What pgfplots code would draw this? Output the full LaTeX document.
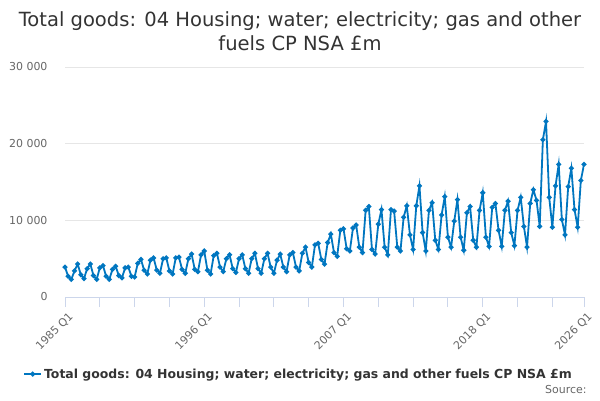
\documentclass[border=0pt]{standalone}
\usepackage{pgfplots}
\pgfplotsset{compat=1.18}
\usepackage{pgfplotstable}
\usepackage{fontspec}
\setmainfont{DejaVu Sans}
\definecolor{series}{RGB}{0,118,192}
\definecolor{tickgray}{RGB}{102,102,102}
\definecolor{gridc}{RGB}{230,230,230}
\definecolor{axisc}{RGB}{204,214,235}
\definecolor{titlec}{RGB}{51,51,51}
\pgfplotstableread{
i v
0 3900
1 2700
2 2300
3 3400
4 4300
5 2900
6 2400
7 3700
8 4300
9 2800
10 2300
11 3800
12 4100
13 2700
14 2300
15 3600
16 4000
17 2800
18 2500
19 3800
20 3900
21 2700
22 2600
23 4400
24 4900
25 3500
26 3000
27 4800
28 5100
29 3500
30 3100
31 5000
32 5100
33 3400
34 3000
35 5100
36 5200
37 3600
38 3100
39 5000
40 5600
41 3600
42 3300
43 5500
44 6000
45 3500
46 3000
47 5400
48 5700
49 3900
50 3300
51 5000
52 5500
53 3700
54 3200
55 5000
56 5500
57 3700
58 3100
59 5000
60 5700
61 3700
62 3100
63 5000
64 5700
65 3900
66 3100
67 4800
68 5600
69 3900
70 3300
71 5500
72 5800
73 3900
74 3400
75 5700
76 6500
77 4500
78 3900
79 6800
80 7000
81 4900
82 4300
83 7100
84 8200
85 5800
86 5300
87 8700
88 8900
89 6300
90 6000
91 9000
92 9400
93 6500
94 5800
95 11300
96 11800
97 6200
98 5600
99 9500
100 11400
101 6500
102 5500
103 11400
104 11200
105 6500
106 6000
107 10400
108 11900
109 8100
110 6200
111 11900
112 14500
113 8400
114 6000
115 11300
116 12300
117 7400
118 6200
119 10700
120 13100
121 7800
122 6500
123 9900
124 12700
125 7800
126 6100
127 11000
128 11800
129 7400
130 6500
131 11300
132 13600
133 7800
134 6600
135 11700
136 12200
137 8700
138 6600
139 11300
140 12500
141 8400
142 6700
143 11300
144 13000
145 9200
146 6500
147 12200
148 14000
149 12600
150 9200
151 20500
152 22900
153 13000
154 9100
155 14500
156 17300
157 10100
158 8100
159 14400
160 16800
161 11400
162 9100
163 15200
164 17300
}\datatable
\begin{document}
\begin{tikzpicture}[x=1bp,y=1bp]
\useasboundingbox (0,0) rectangle (600,400);
\begin{axis}[
  at={(65bp,103bp)}, anchor=south west,
  scale only axis, width=519bp, height=230bp,
  xmin=0, xmax=164, ymin=0, ymax=30000,
  scaled y ticks=false,
  axis x line*=bottom, axis y line*=left,
  y axis line style={draw=none},
  x axis line style={draw=axisc, line width=1bp},
  ytick={0,10000,20000,30000},
  yticklabels={0,10 000,20 000,30 000},
  ymajorgrids, grid style={draw=gridc, line width=0.8bp},
  ytick style={draw=none},
  yticklabel style={font=\fontsize{11}{13}\selectfont, text=tickgray, xshift=-4bp},
  xtick={0,44,88,132,164},
  xticklabels={1985 Q1,1996 Q1,2007 Q1,2018 Q1,2026 Q1},
  minor xtick={11,22,33,55,66,77,99,110,121,143,154},
  tick align=outside, major tick length=10bp, minor tick length=10bp,
  xtick style={draw=axisc, line width=1bp},
  minor x tick style={draw=axisc, line width=1bp},
  xticklabel style={font=\fontsize{11}{13}\selectfont, text=tickgray, rotate=45, anchor=north east, inner sep=1bp, yshift=-4bp},
  legend style={at={(0.45,-0.335)}, anchor=center, draw=none, fill=none,
    font=\bfseries\fontsize{12.5}{15}\selectfont, text=titlec},
]
\addplot[series, line width=1.8bp, mark=*, mark size=1.5bp, mark options={fill=series, draw=series}] table[x=i, y=v] {\datatable};
\addlegendentry{Total goods: 04 Housing; water; electricity; gas and other fuels CP NSA £m}
\end{axis}
\node[text=titlec, font=\fontsize{19.6}{23}\selectfont] at (300,379) {Total goods: 04 Housing; water; electricity; gas and other};
\node[text=titlec, font=\fontsize{19.6}{23}\selectfont] at (300,357) {fuels CP NSA £m};
\node[anchor=east, text=tickgray, font=\fontsize{11}{13}\selectfont] at (590,10) {Source:};
\end{tikzpicture}
\end{document}
